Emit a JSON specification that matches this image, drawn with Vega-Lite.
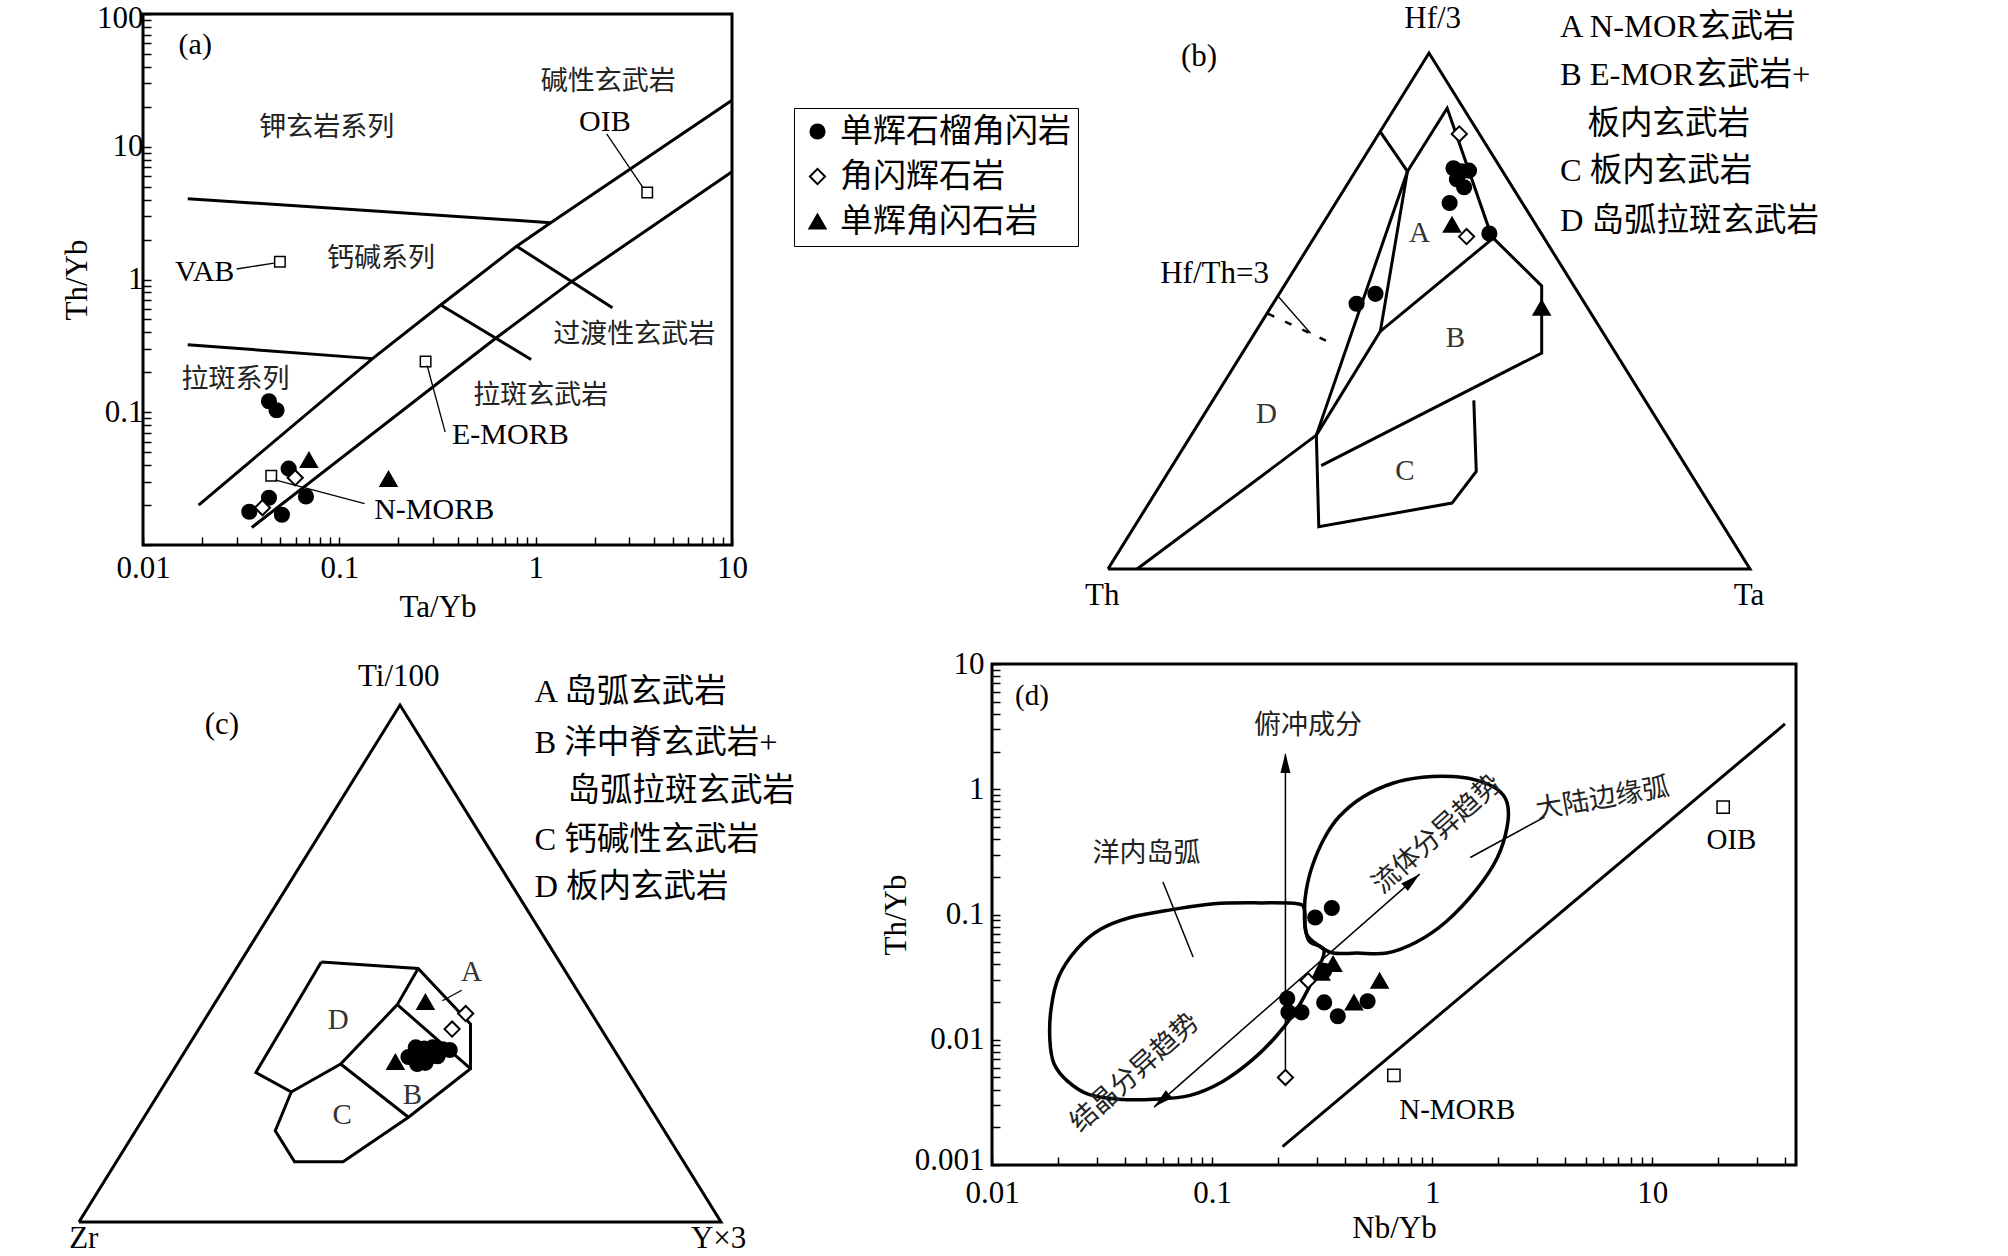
{
"$schema": "https://vega.github.io/schema/vega-lite/v6.json",
"background": "white",
"padding": {"left": 59, "top": 0, "right": 0, "bottom": 0},
"config": {
  "view": {"stroke": "black", "strokeWidth": 3},
  "axis": {"labelFont": "Liberation Serif", "labelFontSize": 31, "labelColor": "black", "titleFont": "Liberation Serif", "titleFontSize": 31, "titleFontWeight": "normal", "titleColor": "black", "grid": false, "domain": false, "tickColor": "black", "tickWidth": 1.5, "tickSize": -8, "labelFlush": false, "labelOverlap": false},
  "text": {"font": "Liberation Serif, Noto Sans CJK SC", "color": "black"}
},
"datasets": {
  "a_lines": [
    {"g":"u","x":0.0192,"y":0.020},{"g":"u","x":0.1476,"y":0.2535},{"g":"u","x":0.3285,"y":0.643},{"g":"u","x":0.80,"y":1.78},{"g":"u","x":1.193,"y":2.68},{"g":"u","x":10,"y":22.4},
    {"g":"l","x":0.0358,"y":0.01355},{"g":"l","x":0.621,"y":0.358},{"g":"l","x":1.516,"y":0.959},{"g":"l","x":10,"y":6.47},
    {"g":"h1","x":0.0169,"y":4.06},{"g":"h1","x":1.193,"y":2.68},
    {"g":"h2","x":0.0169,"y":0.323},{"g":"h2","x":0.1476,"y":0.2535},
    {"g":"c1","x":0.80,"y":1.78},{"g":"c1","x":2.46,"y":0.612},
    {"g":"c2","x":0.3285,"y":0.643},{"g":"c2","x":0.948,"y":0.25}
  ],
  "a_leaders": [
    {"g":"oib","x":2.30,"y":12.5},{"g":"oib","x":3.52,"y":4.92},
    {"g":"vab","x":0.030,"y":1.20},{"g":"vab","x":0.0465,"y":1.33},
    {"g":"em","x":0.28,"y":0.225},{"g":"em","x":0.346,"y":0.0708},
    {"g":"nm","x":0.047,"y":0.031},{"g":"nm","x":0.1345,"y":0.0205}
  ],
  "a_refs": [
    {"x":3.70,"y":4.53},{"x":0.0498,"y":1.36},{"x":0.275,"y":0.2415},{"x":0.045,"y":0.0332}
  ],
  "a_pts": [
    {"type":"单辉石榴角闪岩","x":0.0438,"y":0.121},
    {"type":"单辉石榴角闪岩","x":0.0479,"y":0.1035},
    {"type":"单辉石榴角闪岩","x":0.0552,"y":0.0376},
    {"type":"单辉石榴角闪岩","x":0.0676,"y":0.0232},
    {"type":"单辉石榴角闪岩","x":0.0348,"y":0.0178},
    {"type":"单辉石榴角闪岩","x":0.0438,"y":0.0227},
    {"type":"单辉石榴角闪岩","x":0.051,"y":0.0169},
    {"type":"角闪辉石岩","x":0.0406,"y":0.0191},
    {"type":"角闪辉石岩","x":0.0596,"y":0.0321},
    {"type":"单辉角闪石岩","x":0.070,"y":0.0437},
    {"type":"单辉角闪石岩","x":0.178,"y":0.0314}
  ],
  "a_zh": [
    {"t":"碱性玄武岩","x":2.34,"y":30.5},
    {"t":"钾玄岩系列","x":0.0863,"y":13.8},
    {"t":"钙碱系列","x":0.163,"y":1.42},
    {"t":"过渡性玄武岩","x":3.18,"y":0.384},
    {"t":"拉斑系列","x":0.0296,"y":0.176},
    {"t":"拉斑玄武岩","x":1.06,"y":0.132}
  ],
  "a_en": [
    {"t":"OIB","x":2.25,"y":15.3},
    {"t":"VAB","x":0.0206,"y":1.13},
    {"t":"E-MORB","x":0.743,"y":0.067},
    {"t":"N-MORB","x":0.304,"y":0.01845},
    {"t":"(a)","x":0.01845,"y":58.8}
  ],
  "b_lines": [
    {"g":"tri","o":0,"x":0,"y":0},{"g":"tri","o":1,"x":0.5,"y":1},{"g":"tri","o":2,"x":1,"y":0},{"g":"tri","o":3,"x":0,"y":0},
    {"g":"l1","o":0,"x":0.4242,"y":0.847},{"g":"l1","o":1,"x":0.4664,"y":0.7705},
    {"g":"l2","o":0,"x":0.4664,"y":0.7705},{"g":"l2","o":1,"x":0.5283,"y":0.8929},{"g":"l2","o":2,"x":0.5977,"y":0.6442},{"g":"l2","o":3,"x":0.6755,"y":0.5486},{"g":"l2","o":4,"x":0.6755,"y":0.4185},{"g":"l2","o":5,"x":0.3321,"y":0.2005},
    {"g":"l3","o":0,"x":0.4664,"y":0.7705},{"g":"l3","o":1,"x":0.4242,"y":0.4606},{"g":"l3","o":2,"x":0.5977,"y":0.6389},
    {"g":"l4","o":0,"x":0.0453,"y":0},{"g":"l4","o":1,"x":0.3245,"y":0.2594},{"g":"l4","o":2,"x":0.4664,"y":0.7705},
    {"g":"l5","o":0,"x":0.4242,"y":0.4606},{"g":"l5","o":1,"x":0.3245,"y":0.2594},
    {"g":"c","o":0,"x":0.3245,"y":0.2594},{"g":"c","o":1,"x":0.3283,"y":0.0819},{"g":"c","o":2,"x":0.5358,"y":0.1278},{"g":"c","o":3,"x":0.5736,"y":0.189},{"g":"c","o":4,"x":0.5698,"y":0.3267}
  ],
  "b_dash": [{"x":0.249,"y":0.495},{"x":0.3547,"y":0.4338}],
  "b_leader": [{"x":0.2642,"y":0.5295},{"x":0.3155,"y":0.4568}],
  "b_pts": [
    {"type":"单辉石榴角闪岩","x":0.5381,"y":0.7766},
    {"type":"单辉石榴角闪岩","x":0.5509,"y":0.7705},
    {"type":"单辉石榴角闪岩","x":0.5623,"y":0.772},
    {"type":"单辉石榴角闪岩","x":0.5434,"y":0.7552},
    {"type":"单辉石榴角闪岩","x":0.5547,"y":0.7399},
    {"type":"单辉石榴角闪岩","x":0.5321,"y":0.7093},
    {"type":"单辉石榴角闪岩","x":0.594,"y":0.6503},
    {"type":"单辉石榴角闪岩","x":0.3872,"y":0.5141},
    {"type":"单辉石榴角闪岩","x":0.4166,"y":0.5333},
    {"type":"单辉角闪石岩","x":0.5358,"y":0.6672},
    {"type":"单辉角闪石岩","x":0.6755,"y":0.5065},
    {"type":"角闪辉石岩","x":0.5472,"y":0.8432},
    {"type":"角闪辉石岩","x":0.5585,"y":0.6442}
  ],
  "b_lbl": [
    {"t":"Hf/3","x":0.5057,"y":1.065},
    {"t":"Th","x":-0.009,"y":-0.052},
    {"t":"Ta","x":0.9985,"y":-0.052},
    {"t":"(b)","x":0.1419,"y":0.9923},
    {"t":"Hf/Th=3","x":0.166,"y":0.5715}
  ],
  "b_fld": [
    {"t":"A","x":0.4853,"y":0.6519},
    {"t":"B","x":0.5411,"y":0.4476},
    {"t":"C","x":0.4626,"y":0.189},
    {"t":"D","x":0.2468,"y":0.2999}
  ],
  "b_leg": [
    {"t":"A N-MOR玄武岩","x":0.704,"y":1.0497},
    {"t":"B E-MOR玄武岩+","x":0.704,"y":0.958},
    {"t":"板内玄武岩","x":0.747,"y":0.862},
    {"t":"C 板内玄武岩","x":0.704,"y":0.7705},
    {"t":"D 岛弧拉斑玄武岩","x":0.704,"y":0.6748}
  ],
  "c_lines": [
    {"g":"tri","o":0,"x":0,"y":0},{"g":"tri","o":1,"x":0.5,"y":1},{"g":"tri","o":2,"x":1,"y":0},{"g":"tri","o":3,"x":0,"y":0},
    {"g":"out","o":0,"x":0.3774,"y":0.503},{"g":"out","o":1,"x":0.5283,"y":0.4902},{"g":"out","o":2,"x":0.6098,"y":0.3829},{"g":"out","o":3,"x":0.6098,"y":0.2965},{"g":"out","o":4,"x":0.5132,"y":0.2027},{"g":"out","o":5,"x":0.4113,"y":0.1164},{"g":"out","o":6,"x":0.3358,"y":0.1164},{"g":"out","o":7,"x":0.3057,"y":0.1764},{"g":"out","o":8,"x":0.3306,"y":0.2515},{"g":"out","o":9,"x":0.2755,"y":0.289},{"g":"out","o":10,"x":0.3774,"y":0.503},
    {"g":"i1","o":0,"x":0.5283,"y":0.4902},{"g":"i1","o":1,"x":0.4958,"y":0.4204},{"g":"i1","o":2,"x":0.4075,"y":0.3056},{"g":"i1","o":3,"x":0.3306,"y":0.2515},
    {"g":"i2","o":0,"x":0.4958,"y":0.4204},{"g":"i2","o":1,"x":0.6098,"y":0.2965},
    {"g":"i3","o":0,"x":0.4075,"y":0.3056},{"g":"i3","o":1,"x":0.5132,"y":0.2027}
  ],
  "c_leader": [{"x":0.5962,"y":0.4482},{"x":0.566,"y":0.4279}],
  "c_pts": [
    {"type":"单辉石榴角闪岩","x":0.5245,"y":0.3378},
    {"type":"单辉石榴角闪岩","x":0.5374,"y":0.3356},
    {"type":"单辉石榴角闪岩","x":0.5509,"y":0.3378},
    {"type":"单辉石榴角闪岩","x":0.566,"y":0.3341},
    {"type":"单辉石榴角闪岩","x":0.5774,"y":0.3326},
    {"type":"单辉石榴角闪岩","x":0.5321,"y":0.3228},
    {"type":"单辉石榴角闪岩","x":0.5449,"y":0.3176},
    {"type":"单辉石榴角闪岩","x":0.5585,"y":0.3206},
    {"type":"单辉石榴角闪岩","x":0.5268,"y":0.3056},
    {"type":"单辉石榴角闪岩","x":0.5396,"y":0.3078},
    {"type":"单辉石榴角闪岩","x":0.5132,"y":0.3191},
    {"type":"单辉角闪石岩","x":0.5396,"y":0.4257},
    {"type":"单辉角闪石岩","x":0.4928,"y":0.3093},
    {"type":"角闪辉石岩","x":0.6023,"y":0.4032},
    {"type":"角闪辉石岩","x":0.5811,"y":0.3731}
  ],
  "c_lbl": [
    {"t":"Ti/100","x":0.4981,"y":1.0548},
    {"t":"Zr","x":0.0075,"y":-0.032},
    {"t":"Y×3","x":0.9962,"y":-0.032},
    {"t":"(c)","x":0.2226,"y":0.961}
  ],
  "c_fld": [
    {"t":"A","x":0.6113,"y":0.4842},
    {"t":"B","x":0.5192,"y":0.2455},
    {"t":"C","x":0.4098,"y":0.2065},
    {"t":"D","x":0.4038,"y":0.3904}
  ],
  "c_leg": [
    {"t":"A 岛弧玄武岩","x":0.7094,"y":1.0248},
    {"t":"B 洋中脊玄武岩+","x":0.7094,"y":0.9272},
    {"t":"岛弧拉斑玄武岩","x":0.7608,"y":0.8333},
    {"t":"C 钙碱性玄武岩","x":0.7094,"y":0.7395},
    {"t":"D 板内玄武岩","x":0.7094,"y":0.6479}
  ],
  "d_loops": [
    {"g":"L1","o":1,"x":0.323,"y":0.0510},{"g":"L1","o":2,"x":0.2763,"y":0.0612},{"g":"L1","o":3,"x":0.2646,"y":0.0818},{"g":"L1","o":4,"x":0.2629,"y":0.1094},{"g":"L1","o":5,"x":0.2439,"y":0.1220},{"g":"L1","o":6,"x":0.1678,"y":0.1238},{"g":"L1","o":7,"x":0.1018,"y":0.122},{"g":"L1","o":8,"x":0.0658,"y":0.1094},{"g":"L1","o":9,"x":0.0425,"y":0.0946},{"g":"L1","o":10,"x":0.0311,"y":0.0761},{"g":"L1","o":11,"x":0.0243,"y":0.0529},{"g":"L1","o":12,"x":0.0201,"y":0.0318},{"g":"L1","o":13,"x":0.01856,"y":0.0178},{"g":"L1","o":14,"x":0.01832,"y":0.00996},{"g":"L1","o":15,"x":0.01914,"y":0.00644},{"g":"L1","o":16,"x":0.0221,"y":0.00465},{"g":"L1","o":17,"x":0.0275,"y":0.00366},{"g":"L1","o":18,"x":0.03756,"y":0.00335},{"g":"L1","o":19,"x":0.0546,"y":0.00335},{"g":"L1","o":20,"x":0.0794,"y":0.0036},{"g":"L1","o":21,"x":0.1118,"y":0.00465},{"g":"L1","o":22,"x":0.1528,"y":0.00693},{"g":"L1","o":23,"x":0.196,"y":0.01071},{"g":"L1","o":24,"x":0.2439,"y":0.0178},{"g":"L1","o":25,"x":0.2851,"y":0.0296},
    {"g":"L2","o":1,"x":0.3546,"y":0.0492},{"g":"L2","o":2,"x":0.455,"y":0.0492},{"g":"L2","o":3,"x":0.6219,"y":0.0492},{"g":"L2","o":4,"x":0.8493,"y":0.0603},{"g":"L2","o":5,"x":1.16,"y":0.088},{"g":"L2","o":6,"x":1.585,"y":0.1573},{"g":"L2","o":7,"x":1.972,"y":0.2812},{"g":"L2","o":8,"x":2.192,"y":0.5028},{"g":"L2","o":9,"x":2.192,"y":0.7774},{"g":"L2","o":10,"x":1.972,"y":1.002},{"g":"L2","o":11,"x":1.585,"y":1.184},{"g":"L2","o":12,"x":1.235,"y":1.264},{"g":"L2","o":13,"x":0.904,"y":1.246},{"g":"L2","o":14,"x":0.6616,"y":1.117},{"g":"L2","o":15,"x":0.4845,"y":0.867},{"g":"L2","o":16,"x":0.3775,"y":0.603},{"g":"L2","o":17,"x":0.323,"y":0.4044},{"g":"L2","o":18,"x":0.2851,"y":0.243},{"g":"L2","o":19,"x":0.268,"y":0.1573},{"g":"L2","o":20,"x":0.2629,"y":0.1094},{"g":"L2","o":21,"x":0.268,"y":0.0708},{"g":"L2","o":22,"x":0.3034,"y":0.0569}
  ],
  "d_diag": [{"x":0.209,"y":0.0014},{"x":40.1,"y":3.32}],
  "d_thin": [
    {"g":"v","x":0.2154,"y":0.0055},{"g":"v","x":0.2154,"y":1.9},
    {"g":"a","x":0.0545,"y":0.0029},{"g":"a","x":0.877,"y":0.21},
    {"g":"l1","x":0.0598,"y":0.182},{"g":"l1","x":0.082,"y":0.0458},
    {"g":"l2","x":1.49,"y":0.285},{"g":"l2","x":3.24,"y":0.6}
  ],
  "d_refs": [{"x":21.0,"y":0.72},{"x":0.67,"y":0.00519}],
  "d_pts": [
    {"type":"单辉石榴角闪岩","x":0.294,"y":0.0946},
    {"type":"单辉石榴角闪岩","x":0.350,"y":0.1126},
    {"type":"单辉石榴角闪岩","x":0.2195,"y":0.02136},
    {"type":"单辉石榴角闪岩","x":0.2222,"y":0.01656},
    {"type":"单辉石榴角闪岩","x":0.2548,"y":0.01656},
    {"type":"单辉石榴角闪岩","x":0.323,"y":0.01986},
    {"type":"单辉石榴角闪岩","x":0.3726,"y":0.0154},
    {"type":"单辉石榴角闪岩","x":0.509,"y":0.0203},
    {"type":"单辉石榴角闪岩","x":0.323,"y":0.0355},
    {"type":"单辉角闪石岩","x":0.3546,"y":0.0402},
    {"type":"单辉角闪石岩","x":0.4412,"y":0.01986},
    {"type":"单辉角闪石岩","x":0.577,"y":0.0296},
    {"type":"单辉角闪石岩","x":0.313,"y":0.0342},
    {"type":"角闪辉石岩","x":0.273,"y":0.0296},
    {"type":"角闪辉石岩","x":0.2154,"y":0.005}
  ],
  "d_en": [
    {"t":"OIB","x":22.9,"y":0.39},
    {"t":"N-MORB","x":1.30,"y":0.00275},
    {"t":"(d)","x":0.0152,"y":5.56}
  ],
  "d_zh": [
    {"t":"俯冲成分","x":0.273,"y":3.2},
    {"t":"洋内岛弧","x":0.0504,"y":0.303}
  ],
  "d_rot": [
    {"t":"流体分异趋势","x":1.054,"y":0.435},
    {"t":"结晶分异趋势","x":0.0446,"y":0.00543}
  ],
  "d_rot2": [{"t":"大陆边缘弧","x":5.95,"y":0.836}]
},
"columns": 2,
"spacing": {"row": 95, "column": 260},
"bounds": "flush",
"concat": [
  {"width": 589, "height": 531,
   "layer": [
    {"data": {"name": "a_lines"}, "mark": {"type": "line", "stroke": "black", "strokeWidth": 3},
     "encoding": {
      "x": {"field": "x", "type": "quantitative", "scale": {"type": "log", "domain": [0.01, 10], "nice": false},
        "axis": {"title": "Ta/Yb", "format": "~g", "values": [0.01,0.02,0.03,0.04,0.05,0.06,0.07,0.08,0.09,0.1,0.2,0.3,0.4,0.5,0.6,0.7,0.8,0.9,1,2,3,4,5,6,7,8,9,10],
          "labelExpr": "abs(log(datum.value)/LN10 - round(log(datum.value)/LN10)) < 0.01 ? datum.label : ''",
          "labelPadding": 16, "titleY": 62, "titleBaseline": "middle"}},
      "y": {"field": "y", "type": "quantitative", "scale": {"type": "log", "domain": [0.01, 100], "nice": false},
        "axis": {"title": "Th/Yb", "format": "~g", "values": [0.01,0.02,0.03,0.04,0.05,0.06,0.07,0.08,0.09,0.1,0.2,0.3,0.4,0.5,0.6,0.7,0.8,0.9,1,2,3,4,5,6,7,8,9,10,20,30,40,50,60,70,80,90,100],
          "labelExpr": "abs(log(datum.value)/LN10 - round(log(datum.value)/LN10)) < 0.01 && datum.value > 0.015 ? datum.label : ''",
          "labelOffset": {"condition": {"test": "datum.value > 99", "value": 4}, "value": 0},
          "labelPadding": 8, "titleX": -66, "titleBaseline": "middle"}},
      "detail": {"field": "g"}}},
    {"data": {"name": "a_leaders"}, "mark": {"type": "line", "stroke": "black", "strokeWidth": 1.3},
     "encoding": {
      "x": {"field": "x", "type": "quantitative", "scale": {"type": "log", "domain": [0.01, 10], "nice": false}},
      "y": {"field": "y", "type": "quantitative", "scale": {"type": "log", "domain": [0.01, 100], "nice": false}},
      "detail": {"field": "g"}}},
    {"data": {"name": "a_refs"}, "mark": {"type": "point", "shape": "square", "filled": false, "stroke": "black", "strokeWidth": 1.5, "size": 110, "opacity": 1},
     "encoding": {
      "x": {"field": "x", "type": "quantitative", "scale": {"type": "log", "domain": [0.01, 10], "nice": false}},
      "y": {"field": "y", "type": "quantitative", "scale": {"type": "log", "domain": [0.01, 100], "nice": false}}}},
    {"data": {"name": "a_pts"}, "mark": {"type": "point", "filled": true, "strokeWidth": 2, "opacity": 1},
     "encoding": {
      "x": {"field": "x", "type": "quantitative", "scale": {"type": "log", "domain": [0.01, 10], "nice": false}},
      "y": {"field": "y", "type": "quantitative", "scale": {"type": "log", "domain": [0.01, 100], "nice": false}},
      "shape": {"field": "type", "type": "nominal", "scale": {"domain": ["单辉石榴角闪岩","角闪辉石岩","单辉角闪石岩"], "range": ["circle","diamond","triangle-up"]},
        "legend": {"title": null, "orient": "none", "legendX": 651, "legendY": 94, "strokeColor": "black", "padding": 7, "labelFont": "Liberation Serif, Noto Sans CJK SC", "labelFontSize": 33, "labelColor": "black", "labelLimit": 400, "rowPadding": 11, "symbolStrokeWidth": 2, "labelOffset": 6}},
      "fill": {"field": "type", "type": "nominal", "scale": {"domain": ["单辉石榴角闪岩","角闪辉石岩","单辉角闪石岩"], "range": ["black","white","black"]},
        "legend": {"title": null, "orient": "none", "legendX": 651, "legendY": 94, "strokeColor": "black", "padding": 7, "labelFont": "Liberation Serif, Noto Sans CJK SC", "labelFontSize": 33, "labelColor": "black", "labelLimit": 400, "rowPadding": 11, "symbolStrokeWidth": 2, "labelOffset": 6}},
      "stroke": {"field": "type", "type": "nominal", "scale": {"domain": ["单辉石榴角闪岩","角闪辉石岩","单辉角闪石岩"], "range": ["black","black","black"]},
        "legend": {"title": null, "orient": "none", "legendX": 651, "legendY": 94, "strokeColor": "black", "padding": 7, "labelFont": "Liberation Serif, Noto Sans CJK SC", "labelFontSize": 33, "labelColor": "black", "labelLimit": 400, "rowPadding": 11, "symbolStrokeWidth": 2, "labelOffset": 6}},
      "size": {"field": "type", "type": "nominal", "scale": {"domain": ["单辉石榴角闪岩","角闪辉石岩","单辉角闪石岩"], "range": [200, 260, 220]},
        "legend": {"title": null, "orient": "none", "legendX": 651, "legendY": 94, "strokeColor": "black", "padding": 7, "labelFont": "Liberation Serif, Noto Sans CJK SC", "labelFontSize": 33, "labelColor": "black", "labelLimit": 400, "rowPadding": 11, "symbolStrokeWidth": 2, "labelOffset": 6}}}},
    {"data": {"name": "a_zh"}, "mark": {"type": "text", "fontSize": 27, "font": "Noto Sans CJK SC", "color": "#222"},
     "encoding": {
      "x": {"field": "x", "type": "quantitative", "scale": {"type": "log", "domain": [0.01, 10], "nice": false}},
      "y": {"field": "y", "type": "quantitative", "scale": {"type": "log", "domain": [0.01, 100], "nice": false}},
      "text": {"field": "t"}}},
    {"data": {"name": "a_en"}, "mark": {"type": "text", "fontSize": 30, "font": "Liberation Serif"},
     "encoding": {
      "x": {"field": "x", "type": "quantitative", "scale": {"type": "log", "domain": [0.01, 10], "nice": false}},
      "y": {"field": "y", "type": "quantitative", "scale": {"type": "log", "domain": [0.01, 100], "nice": false}},
      "text": {"field": "t"}}}
   ]},
  {"width": 758, "height": 555, "view": {"stroke": null},
   "layer": [
    {"data": {"name": "b_lines"}, "mark": {"type": "line", "stroke": "black", "strokeWidth": 3},
     "encoding": {
      "x": {"field": "x", "type": "quantitative", "scale": {"domain": [-0.1807, 1], "nice": false, "zero": false}, "axis": null},
      "y": {"field": "y", "type": "quantitative", "scale": {"domain": [0, 1.0756], "nice": false, "zero": false}, "axis": null},
      "detail": {"field": "g"}, "order": {"field": "o", "type": "quantitative"}}},
    {"data": {"name": "b_dash"}, "mark": {"type": "line", "stroke": "black", "strokeWidth": 2.5, "strokeDash": [7, 12]},
     "encoding": {
      "x": {"field": "x", "type": "quantitative", "scale": {"domain": [-0.1807, 1], "nice": false, "zero": false}, "axis": null},
      "y": {"field": "y", "type": "quantitative", "scale": {"domain": [0, 1.0756], "nice": false, "zero": false}, "axis": null}}},
    {"data": {"name": "b_leader"}, "mark": {"type": "line", "stroke": "black", "strokeWidth": 1.3},
     "encoding": {
      "x": {"field": "x", "type": "quantitative", "scale": {"domain": [-0.1807, 1], "nice": false, "zero": false}, "axis": null},
      "y": {"field": "y", "type": "quantitative", "scale": {"domain": [0, 1.0756], "nice": false, "zero": false}, "axis": null}}},
    {"data": {"name": "b_pts"}, "mark": {"type": "point", "filled": true, "strokeWidth": 2, "opacity": 1},
     "encoding": {
      "x": {"field": "x", "type": "quantitative", "scale": {"domain": [-0.1807, 1], "nice": false, "zero": false}, "axis": null},
      "y": {"field": "y", "type": "quantitative", "scale": {"domain": [0, 1.0756], "nice": false, "zero": false}, "axis": null},
      "shape": {"field": "type", "type": "nominal", "scale": {"domain": ["单辉石榴角闪岩","角闪辉石岩","单辉角闪石岩"], "range": ["circle","diamond","triangle-up"]}},
      "fill": {"field": "type", "type": "nominal", "scale": {"domain": ["单辉石榴角闪岩","角闪辉石岩","单辉角闪石岩"], "range": ["black","white","black"]}},
      "stroke": {"field": "type", "type": "nominal", "scale": {"domain": ["单辉石榴角闪岩","角闪辉石岩","单辉角闪石岩"], "range": ["black","black","black"]}},
      "size": {"field": "type", "type": "nominal", "scale": {"domain": ["单辉石榴角闪岩","角闪辉石岩","单辉角闪石岩"], "range": [200, 260, 220]}}}},
    {"data": {"name": "b_lbl"}, "mark": {"type": "text", "fontSize": 31, "font": "Liberation Serif"},
     "encoding": {
      "x": {"field": "x", "type": "quantitative", "scale": {"domain": [-0.1807, 1], "nice": false, "zero": false}, "axis": null},
      "y": {"field": "y", "type": "quantitative", "scale": {"domain": [0, 1.0756], "nice": false, "zero": false}, "axis": null},
      "text": {"field": "t"}}},
    {"data": {"name": "b_fld"}, "mark": {"type": "text", "fontSize": 29, "font": "Liberation Serif", "color": "#333"},
     "encoding": {
      "x": {"field": "x", "type": "quantitative", "scale": {"domain": [-0.1807, 1], "nice": false, "zero": false}, "axis": null},
      "y": {"field": "y", "type": "quantitative", "scale": {"domain": [0, 1.0756], "nice": false, "zero": false}, "axis": null},
      "text": {"field": "t"}}},
    {"data": {"name": "b_leg"}, "mark": {"type": "text", "fontSize": 32.5, "align": "left", "font": "Liberation Serif, Noto Sans CJK SC"},
     "encoding": {
      "x": {"field": "x", "type": "quantitative", "scale": {"domain": [-0.1807, 1], "nice": false, "zero": false}, "axis": null},
      "y": {"field": "y", "type": "quantitative", "scale": {"domain": [0, 1.0756], "nice": false, "zero": false}, "axis": null},
      "text": {"field": "t"}}}
   ]},
  {"width": 589, "height": 558, "view": {"stroke": null},
   "layer": [
    {"data": {"name": "c_lines"}, "mark": {"type": "line", "stroke": "black", "strokeWidth": 3},
     "encoding": {
      "x": {"field": "x", "type": "quantitative", "scale": {"domain": [0.0997, 1.0171], "nice": false, "zero": false}, "axis": null},
      "y": {"field": "y", "type": "quantitative", "scale": {"domain": [0, 1.0793], "nice": false, "zero": false}, "axis": null},
      "detail": {"field": "g"}, "order": {"field": "o", "type": "quantitative"}}},
    {"data": {"name": "c_leader"}, "mark": {"type": "line", "stroke": "black", "strokeWidth": 1.3},
     "encoding": {
      "x": {"field": "x", "type": "quantitative", "scale": {"domain": [0.0997, 1.0171], "nice": false, "zero": false}, "axis": null},
      "y": {"field": "y", "type": "quantitative", "scale": {"domain": [0, 1.0793], "nice": false, "zero": false}, "axis": null}}},
    {"data": {"name": "c_pts"}, "mark": {"type": "point", "filled": true, "strokeWidth": 2, "opacity": 1},
     "encoding": {
      "x": {"field": "x", "type": "quantitative", "scale": {"domain": [0.0997, 1.0171], "nice": false, "zero": false}, "axis": null},
      "y": {"field": "y", "type": "quantitative", "scale": {"domain": [0, 1.0793], "nice": false, "zero": false}, "axis": null},
      "shape": {"field": "type", "type": "nominal", "scale": {"domain": ["单辉石榴角闪岩","角闪辉石岩","单辉角闪石岩"], "range": ["circle","diamond","triangle-up"]}},
      "fill": {"field": "type", "type": "nominal", "scale": {"domain": ["单辉石榴角闪岩","角闪辉石岩","单辉角闪石岩"], "range": ["black","white","black"]}},
      "stroke": {"field": "type", "type": "nominal", "scale": {"domain": ["单辉石榴角闪岩","角闪辉石岩","单辉角闪石岩"], "range": ["black","black","black"]}},
      "size": {"field": "type", "type": "nominal", "scale": {"domain": ["单辉石榴角闪岩","角闪辉石岩","单辉角闪石岩"], "range": [200, 260, 220]}}}},
    {"data": {"name": "c_lbl"}, "mark": {"type": "text", "fontSize": 31, "font": "Liberation Serif"},
     "encoding": {
      "x": {"field": "x", "type": "quantitative", "scale": {"domain": [0.0997, 1.0171], "nice": false, "zero": false}, "axis": null},
      "y": {"field": "y", "type": "quantitative", "scale": {"domain": [0, 1.0793], "nice": false, "zero": false}, "axis": null},
      "text": {"field": "t"}}},
    {"data": {"name": "c_fld"}, "mark": {"type": "text", "fontSize": 29, "font": "Liberation Serif", "color": "#333"},
     "encoding": {
      "x": {"field": "x", "type": "quantitative", "scale": {"domain": [0.0997, 1.0171], "nice": false, "zero": false}, "axis": null},
      "y": {"field": "y", "type": "quantitative", "scale": {"domain": [0, 1.0793], "nice": false, "zero": false}, "axis": null},
      "text": {"field": "t"}}},
    {"data": {"name": "c_leg"}, "mark": {"type": "text", "fontSize": 32.5, "align": "left", "font": "Liberation Serif, Noto Sans CJK SC"},
     "encoding": {
      "x": {"field": "x", "type": "quantitative", "scale": {"domain": [0.0997, 1.0171], "nice": false, "zero": false}, "axis": null},
      "y": {"field": "y", "type": "quantitative", "scale": {"domain": [0, 1.0793], "nice": false, "zero": false}, "axis": null},
      "text": {"field": "t"}}}
   ]},
  {"width": 804, "height": 501,
   "layer": [
    {"data": {"name": "d_loops"}, "mark": {"type": "line", "stroke": "black", "strokeWidth": 3.5, "interpolate": "cardinal-closed"},
     "encoding": {
      "x": {"field": "x", "type": "quantitative", "scale": {"type": "log", "domain": [0.01, 45], "nice": false},
        "axis": {"title": "Nb/Yb", "format": "~g", "values": [0.01,0.02,0.03,0.04,0.05,0.06,0.07,0.08,0.09,0.1,0.2,0.3,0.4,0.5,0.6,0.7,0.8,0.9,1,2,3,4,5,6,7,8,9,10,20,30,40],
          "labelExpr": "abs(log(datum.value)/LN10 - round(log(datum.value)/LN10)) < 0.01 ? datum.label : ''",
          "labelPadding": 21, "titleY": 63, "titleBaseline": "middle"}},
      "y": {"field": "y", "type": "quantitative", "scale": {"type": "log", "domain": [0.001, 10], "nice": false},
        "axis": {"title": "Th/Yb", "format": "~g", "values": [0.001,0.002,0.003,0.004,0.005,0.006,0.007,0.008,0.009,0.01,0.02,0.03,0.04,0.05,0.06,0.07,0.08,0.09,0.1,0.2,0.3,0.4,0.5,0.6,0.7,0.8,0.9,1,2,3,4,5,6,7,8,9,10],
          "labelExpr": "abs(log(datum.value)/LN10 - round(log(datum.value)/LN10)) < 0.01 ? datum.label : ''",
          "labelOffset": {"condition": {"test": "datum.value < 0.0015", "value": -5}, "value": 0},
          "labelPadding": 16, "titleX": -96, "titleBaseline": "middle"}},
      "detail": {"field": "g"}, "order": {"field": "o", "type": "quantitative"}}},
    {"data": {"name": "d_diag"}, "mark": {"type": "line", "stroke": "black", "strokeWidth": 3},
     "encoding": {
      "x": {"field": "x", "type": "quantitative", "scale": {"type": "log", "domain": [0.01, 45], "nice": false}},
      "y": {"field": "y", "type": "quantitative", "scale": {"type": "log", "domain": [0.001, 10], "nice": false}}}},
    {"data": {"name": "d_thin"}, "mark": {"type": "line", "stroke": "black", "strokeWidth": 1.5},
     "encoding": {
      "x": {"field": "x", "type": "quantitative", "scale": {"type": "log", "domain": [0.01, 45], "nice": false}},
      "y": {"field": "y", "type": "quantitative", "scale": {"type": "log", "domain": [0.001, 10], "nice": false}},
      "detail": {"field": "g"}}},
    {"data": {"values": [{"x":0.2154,"y":1.945}]}, "mark": {"type": "point", "shape": "M0,0L0.4,1.6L-0.4,1.6Z", "filled": true, "fill": "black", "size": 625, "opacity": 1},
     "encoding": {
      "x": {"field": "x", "type": "quantitative", "scale": {"type": "log", "domain": [0.01, 45], "nice": false}},
      "y": {"field": "y", "type": "quantitative", "scale": {"type": "log", "domain": [0.001, 10], "nice": false}}}},
    {"data": {"values": [{"x":0.877,"y":0.21}]}, "mark": {"type": "point", "shape": "M0,0L0.4,1.6L-0.4,1.6Z", "filled": true, "fill": "black", "size": 625, "opacity": 1, "angle": 48.7},
     "encoding": {
      "x": {"field": "x", "type": "quantitative", "scale": {"type": "log", "domain": [0.01, 45], "nice": false}},
      "y": {"field": "y", "type": "quantitative", "scale": {"type": "log", "domain": [0.001, 10], "nice": false}}}},
    {"data": {"values": [{"x":0.0545,"y":0.0029}]}, "mark": {"type": "point", "shape": "M0,0L0.4,1.6L-0.4,1.6Z", "filled": true, "fill": "black", "size": 625, "opacity": 1, "angle": 228.7},
     "encoding": {
      "x": {"field": "x", "type": "quantitative", "scale": {"type": "log", "domain": [0.01, 45], "nice": false}},
      "y": {"field": "y", "type": "quantitative", "scale": {"type": "log", "domain": [0.001, 10], "nice": false}}}},
    {"data": {"name": "d_refs"}, "mark": {"type": "point", "shape": "square", "filled": false, "stroke": "black", "strokeWidth": 1.5, "size": 150, "opacity": 1},
     "encoding": {
      "x": {"field": "x", "type": "quantitative", "scale": {"type": "log", "domain": [0.01, 45], "nice": false}},
      "y": {"field": "y", "type": "quantitative", "scale": {"type": "log", "domain": [0.001, 10], "nice": false}}}},
    {"data": {"name": "d_pts"}, "mark": {"type": "point", "filled": true, "strokeWidth": 2, "opacity": 1},
     "encoding": {
      "x": {"field": "x", "type": "quantitative", "scale": {"type": "log", "domain": [0.01, 45], "nice": false}},
      "y": {"field": "y", "type": "quantitative", "scale": {"type": "log", "domain": [0.001, 10], "nice": false}},
      "shape": {"field": "type", "type": "nominal", "scale": {"domain": ["单辉石榴角闪岩","角闪辉石岩","单辉角闪石岩"], "range": ["circle","diamond","triangle-up"]}},
      "fill": {"field": "type", "type": "nominal", "scale": {"domain": ["单辉石榴角闪岩","角闪辉石岩","单辉角闪石岩"], "range": ["black","white","black"]}},
      "stroke": {"field": "type", "type": "nominal", "scale": {"domain": ["单辉石榴角闪岩","角闪辉石岩","单辉角闪石岩"], "range": ["black","black","black"]}},
      "size": {"field": "type", "type": "nominal", "scale": {"domain": ["单辉石榴角闪岩","角闪辉石岩","单辉角闪石岩"], "range": [200, 260, 220]}}}},
    {"data": {"name": "d_en"}, "mark": {"type": "text", "fontSize": 29, "font": "Liberation Serif"},
     "encoding": {
      "x": {"field": "x", "type": "quantitative", "scale": {"type": "log", "domain": [0.01, 45], "nice": false}},
      "y": {"field": "y", "type": "quantitative", "scale": {"type": "log", "domain": [0.001, 10], "nice": false}},
      "text": {"field": "t"}}},
    {"data": {"name": "d_zh"}, "mark": {"type": "text", "fontSize": 27, "font": "Noto Sans CJK SC", "color": "#222"},
     "encoding": {
      "x": {"field": "x", "type": "quantitative", "scale": {"type": "log", "domain": [0.01, 45], "nice": false}},
      "y": {"field": "y", "type": "quantitative", "scale": {"type": "log", "domain": [0.001, 10], "nice": false}},
      "text": {"field": "t"}}},
    {"data": {"name": "d_rot"}, "mark": {"type": "text", "fontSize": 27, "font": "Noto Sans CJK SC", "color": "#222", "angle": 318},
     "encoding": {
      "x": {"field": "x", "type": "quantitative", "scale": {"type": "log", "domain": [0.01, 45], "nice": false}},
      "y": {"field": "y", "type": "quantitative", "scale": {"type": "log", "domain": [0.001, 10], "nice": false}},
      "text": {"field": "t"}}},
    {"data": {"name": "d_rot2"}, "mark": {"type": "text", "fontSize": 27, "font": "Noto Sans CJK SC", "color": "#222", "angle": 350},
     "encoding": {
      "x": {"field": "x", "type": "quantitative", "scale": {"type": "log", "domain": [0.01, 45], "nice": false}},
      "y": {"field": "y", "type": "quantitative", "scale": {"type": "log", "domain": [0.001, 10], "nice": false}},
      "text": {"field": "t"}}}
   ]}
]
}
